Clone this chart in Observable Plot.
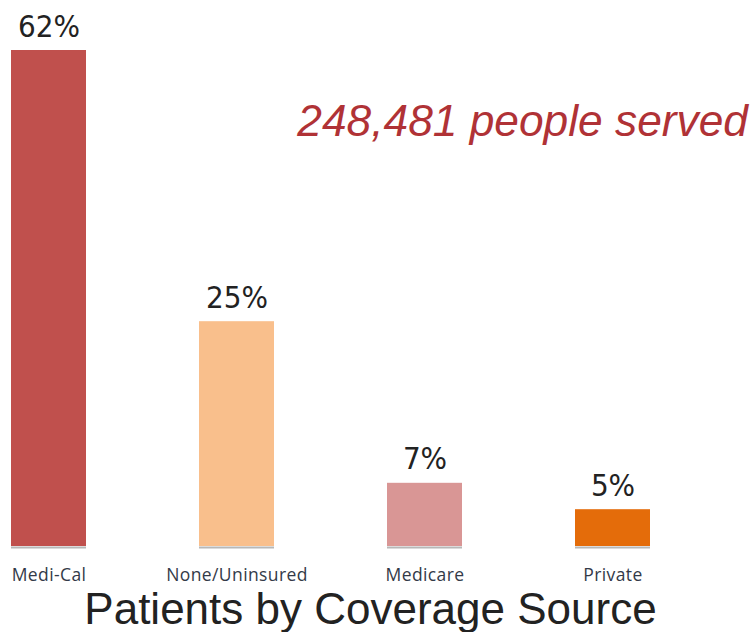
<!DOCTYPE html>
<html>
<head>
<meta charset="utf-8">
<script src="https://cdn.jsdelivr.net/npm/d3@7"></script>
<script src="https://cdn.jsdelivr.net/npm/@observablehq/plot@0.6"></script>
<style>
  html, body { margin: 0; padding: 0; background: #fff; }
  #wrap { position: relative; width: 751px; height: 632px; overflow: hidden; }
  #sub { position: absolute; right: 3px; top: 99px; font-family: "Liberation Sans", Arial, sans-serif; font-style: italic; font-size: 44.3px; line-height: 44px; color: #b03236; white-space: nowrap; }
  #title { position: absolute; left: 0; width: 741px; top: 587px; text-align: center; font-family: "Liberation Sans", Arial, sans-serif; font-size: 44px; line-height: 44px; color: #222; white-space: nowrap; }
  .barlabel text { font-stretch: condensed; }
  .xaxis text { letter-spacing: 0.4px; }
</style>
</head>
<body>
<div id="wrap">
  <div id="chart"></div>
  <div id="sub"></div>
  <div id="title"></div>
</div>
<script>
const categories = ["Medi-Cal", "None/Uninsured", "Medicare", "Private"];
const barValues = [62, 28.1, 7.9, 4.6];           // bar heights as drawn (percent)
const barLabels = ["62%", "25%", "7%", "5%"];
const barColors = ["#c0504d", "#f9bf8c", "#d99695", "#e46c0a"];
const subtitle = "248,481 people served";
const title = "Patients by Coverage Source";

const data = categories.map((c, i) => ({cat: c, value: barValues[i], label: barLabels[i], color: barColors[i]}));

const chart = Plot.plot({
  width: 751,
  height: 590,
  marginLeft: 10,
  marginRight: 100,
  marginTop: 50,
  marginBottom: 44,
  style: {background: "transparent"},
  x: {domain: categories, paddingInner: 0.6, paddingOuter: 0, label: null},
  y: {domain: [0, 62], axis: null},
  marks: [
    Plot.axisX({tickSize: 0, tickPadding: 22, fontSize: 17.5, className: "xaxis", fontFamily: "'Open Sans', sans-serif", color: "#333a48", label: null}),
    Plot.tickY(data, {x: "cat", y: 0, stroke: "#b8b8b8", strokeWidth: 2, dy: 1}),
    Plot.barY(data, {x: "cat", y: "value", fill: "color"}),
    Plot.text(data, {x: "cat", y: "value", text: "label", lineAnchor: "bottom", dy: -14, fontSize: 31, className: "barlabel", fontFamily: "'DejaVu Sans Condensed', 'DejaVu Sans', sans-serif", fill: "#222"})
  ]
});
document.getElementById("chart").appendChild(chart);
document.getElementById("sub").textContent = subtitle;
document.getElementById("title").textContent = title;
</script>
</body>
</html>
